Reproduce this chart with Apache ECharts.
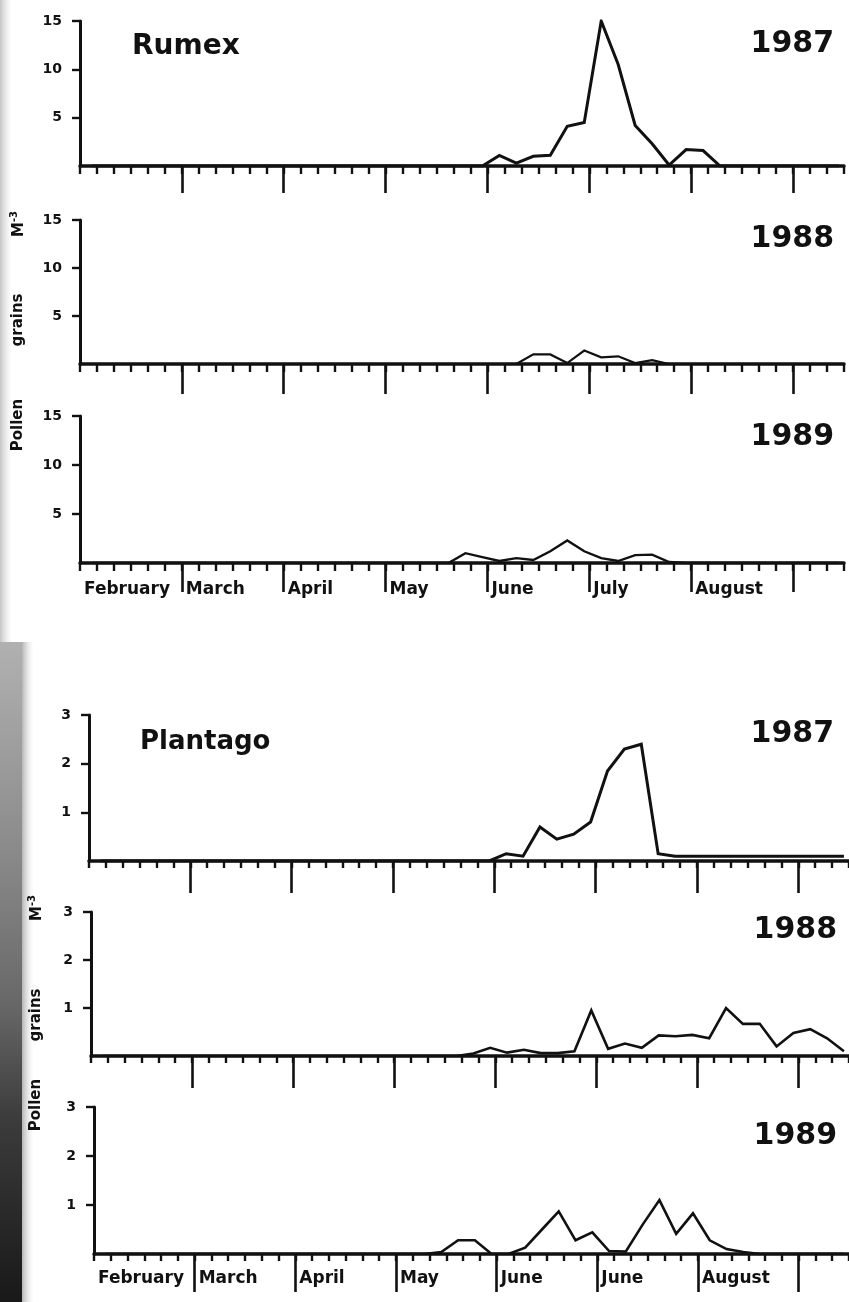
<!DOCTYPE html>
<html>
<head>
<meta charset="utf-8">
<script src="https://cdn.jsdelivr.net/npm/echarts@6/dist/echarts.min.js"></script>
<style>
html,body{margin:0;padding:0;background:#fff;}
#chart{width:849px;height:1302px;}
</style>
</head>
<body>
<div id="chart"></div>
<script>
// ---------- DATA ----------
// Month labels along the bottom axis of each species block (as printed)
const rumexMonths    = ['February','March','April','May','June','July','August'];
const plantagoMonths = ['February','March','April','May','June','June','August'];
const monthStarts     = [0,6,12,18,24,30,36];     // pentad index where each month starts
const monthBoundaries = [6,12,18,24,30,36,42];
const rumexYTicks    = [5,10,15];
const plantagoYTicks = [1,2,3];
const titles = ['Rumex','Plantago'];
const years  = ['1987','1988','1989'];
const yTitleWords = ['Pollen','grains'];
const yTitleUnit = ['M','-3'];

// Pentad (5-day) mean concentrations, Feb -> mid Sep (45 pentads)
const rumex1987 = [0,0,0,0,0,0,0,0,0,0, 0,0,0,0,0,0,0,0,0,0,
  0,0,0,0,1.1,0.3,1.0,1.1,4.1,4.5, 15,10.5,4.2,2.3,0.1,1.7,1.6,0,0,0, 0,0,0,0,0];
const rumex1988 = [0,0,0,0,0,0,0,0,0,0, 0,0,0,0,0,0,0,0,0,0,
  0,0,0,0,0,0,1.0,1.0,0.1,1.4, 0.7,0.8,0.1,0.4,0,0,0,0,0,0, 0,0,0,0,0];
const rumex1989 = [0,0,0,0,0,0,0,0,0,0, 0,0,0,0,0,0,0,0,0,0,
  0,0,1.0,0.6,0.2,0.5,0.3,1.2,2.3,1.2, 0.5,0.2,0.8,0.85,0.1,0,0,0,0,0, 0,0,0,0,0];
const plantago1987 = [0,0,0,0,0,0,0,0,0,0, 0,0,0,0,0,0,0,0,0,0,
  0,0,0,0,0.15,0.1,0.7,0.45,0.55,0.8, 1.85,2.3,2.4,0.15,0.1,0.1,0.1,0.1,0.1,0.1, 0.1,0.1,0.1,0.1,0.1];
const plantago1988 = [0,0,0,0,0,0,0,0,0,0, 0,0,0,0,0,0,0,0,0,0,
  0,0,0.05,0.17,0.07,0.13,0.06,0.06,0.1,0.95, 0.15,0.26,0.17,0.43,0.41,0.44,0.37,1.0,0.67,0.67, 0.2,0.48,0.56,0.37,0.1];
const plantago1989 = [0,0,0,0,0,0,0,0,0,0, 0,0,0,0,0,0,0,0,0,0,
  0.04,0.28,0.28,0,0,0.13,0.5,0.87,0.28,0.44, 0.06,0.05,0.6,1.1,0.41,0.83,0.28,0.1,0.04,0, 0,0,0,0,0];

// ---------- LAYOUT (styles only) ----------
const FONT = "'DejaVu Sans', 'Liberation Sans', sans-serif";
const INK = '#111';
const panels = [
  {data: rumex1987, left:80, right:5, top:21,  height:145, ymax:15, yint:5, yticks:rumexYTicks, mOff:14, mLen:27, tick:8, lw:3,   months:null, year:{x:834,y:44}},
  {data: rumex1988, left:80, right:5, top:220, height:144, ymax:15, yint:5, yticks:rumexYTicks, mOff:14, mLen:30, tick:8, lw:2.2, months:null, year:{x:834,y:239}},
  {data: rumex1989, left:80, right:5, top:416, height:147, ymax:15, yint:5, yticks:rumexYTicks, mOff:15, mLen:29, tick:8, lw:2.4, months:rumexMonths, year:{x:834,y:437}, lblMargin:3},
  {data: plantago1987, left:89, right:0, top:715,  height:146, ymax:3, yint:1, yticks:plantagoYTicks, mOff:9,  mLen:32, tick:7, lw:3,   months:null, year:{x:834,y:734}},
  {data: plantago1988, left:91, right:0, top:912,  height:144, ymax:3, yint:1, yticks:plantagoYTicks, mOff:12, mLen:32, tick:7, lw:2.6, months:null, year:{x:837,y:930}},
  {data: plantago1989, left:94, right:0, top:1107, height:147, ymax:3, yint:1, yticks:plantagoYTicks, mOff:8,  mLen:38, tick:7, lw:2.6, months:plantagoMonths, year:{x:837,y:1136}, lblMargin:8}
];

const grid = [], xAxis = [], yAxis = [], series = [];
panels.forEach((p, i) => {
  grid.push({left:p.left, right:p.right, top:p.top, height:p.height});
  // main axis with pentad ticks
  xAxis.push({
    type:'value', gridIndex:i, min:0, max:45, interval:1,
    axisLine:{show:true, onZero:false, lineStyle:{color:INK, width:3.5}},
    axisTick:{show:true, length:p.tick, lineStyle:{color:INK, width:2.4}},
    axisLabel:{show:false}, splitLine:{show:false}
  });
  yAxis.push({
    type:'value', gridIndex:i, min:0, max:p.ymax, interval:p.yint,
    axisLine:{show:true, lineStyle:{color:INK, width:3}},
    axisTick:{show:true, customValues:p.yticks, length:8, lineStyle:{color:INK, width:2.4}},
    axisLabel:{show:true, customValues:p.yticks, margin:18,
      color:INK, fontFamily:FONT, fontWeight:'bold', fontSize:14},
    splitLine:{show:false}
  });
  series.push({
    type:'line', xAxisIndex:i, yAxisIndex:i, showSymbol:false, symbol:'none',
    data: p.data.map((v, k) => [k + 0.7, v]),
    lineStyle:{color:INK, width:p.lw, join:'miter'}, z:5, animation:false
  });
});
// month boundary tick rows (separate, offset below each axis)
panels.forEach((p, i) => {
  const ax = {
    type:'value', gridIndex:i, min:0, max:45, position:'bottom', offset:p.mOff,
    axisLine:{show:false},
    axisTick:{show:true, customValues:monthBoundaries, length:p.mLen, lineStyle:{color:INK, width:2.6}},
    axisLabel:{show:false}, splitLine:{show:false}
  };
  if (p.months) {
    ax.axisLabel = {
      show:true, customValues:monthStarts, align:'left', margin:p.lblMargin,
      padding:[0,0,0,4], color:INK, fontFamily:FONT, fontWeight:'bold', fontSize:17,
      formatter: v => p.months[monthStarts.indexOf(Math.round(v))] || ''
    };
  }
  xAxis.push(ax);
});

const graphic = [];
// scan-edge shading
graphic.push({type:'rect', shape:{x:0,y:0,width:12,height:642}, silent:true, z:0,
  style:{fill:{type:'linear',x:0,y:0,x2:1,y2:0,colorStops:[{offset:0,color:'rgba(140,140,140,0.5)'},{offset:1,color:'rgba(200,200,200,0)'}]}}});
graphic.push({type:'rect', shape:{x:0,y:642,width:22,height:660}, silent:true, z:0,
  style:{fill:{type:'linear',x:0,y:0,x2:0,y2:1,colorStops:[
    {offset:0,color:'rgba(150,150,150,0.75)'},
    {offset:0.3,color:'rgba(120,120,120,0.85)'},
    {offset:0.55,color:'rgba(95,95,95,0.95)'},
    {offset:0.72,color:'rgba(60,60,60,1)'},
    {offset:1,color:'rgba(25,25,25,1)'}]}}});
graphic.push({type:'rect', shape:{x:22,y:642,width:12,height:660}, silent:true, z:0,
  style:{fill:{type:'linear',x:0,y:0,x2:1,y2:0,colorStops:[{offset:0,color:'rgba(120,120,120,0.55)'},{offset:1,color:'rgba(220,220,220,0)'}]}}});

// species titles
graphic.push({type:'text', x:132, y:47, z:10, style:{text:titles[0], fill:INK, font:"bold 28px "+FONT, textVerticalAlign:'middle'}});
graphic.push({type:'text', x:140, y:742, z:10, style:{text:titles[1], fill:INK, font:"bold 26px "+FONT, textVerticalAlign:'middle'}});
// year labels
panels.forEach((p, i) => {
  graphic.push({type:'text', x:p.year.x, y:p.year.y, z:10,
    style:{text:years[i % 3], fill:INK, font:"bold 30px "+FONT, textAlign:'right', textVerticalAlign:'middle'}});
});
// vertical y-axis titles
const yTitlePos = [
  {x:18, ys:[425, 320, 224]},
  {x:36, ys:[1105, 1015, 908]}
];
yTitlePos.forEach(t => {
  yTitleWords.forEach((w, j) => {
    graphic.push({type:'text', x:t.x, y:t.ys[j], rotation:Math.PI/2, z:10,
      style:{text:w, fill:INK, font:"bold 15px "+FONT, textAlign:'center', textVerticalAlign:'middle'}});
  });
  graphic.push({type:'text', x:t.x, y:t.ys[2], rotation:Math.PI/2, z:10,
    style:{text:'{m|' + yTitleUnit[0] + '}{s|' + yTitleUnit[1] + '}', textAlign:'center', textVerticalAlign:'middle',
      rich:{
        m:{fill:INK, fontFamily:FONT, fontWeight:'bold', fontSize:15, lineHeight:18, verticalAlign:'bottom'},
        s:{fill:INK, fontFamily:FONT, fontWeight:'bold', fontSize:10, lineHeight:18, verticalAlign:'top'}
      }}});
});

const chart = echarts.init(document.getElementById('chart'), null, {renderer:'canvas'});
chart.setOption({
  backgroundColor:'#ffffff',
  animation:false,
  grid, xAxis, yAxis, series, graphic
});
</script>
</body>
</html>
